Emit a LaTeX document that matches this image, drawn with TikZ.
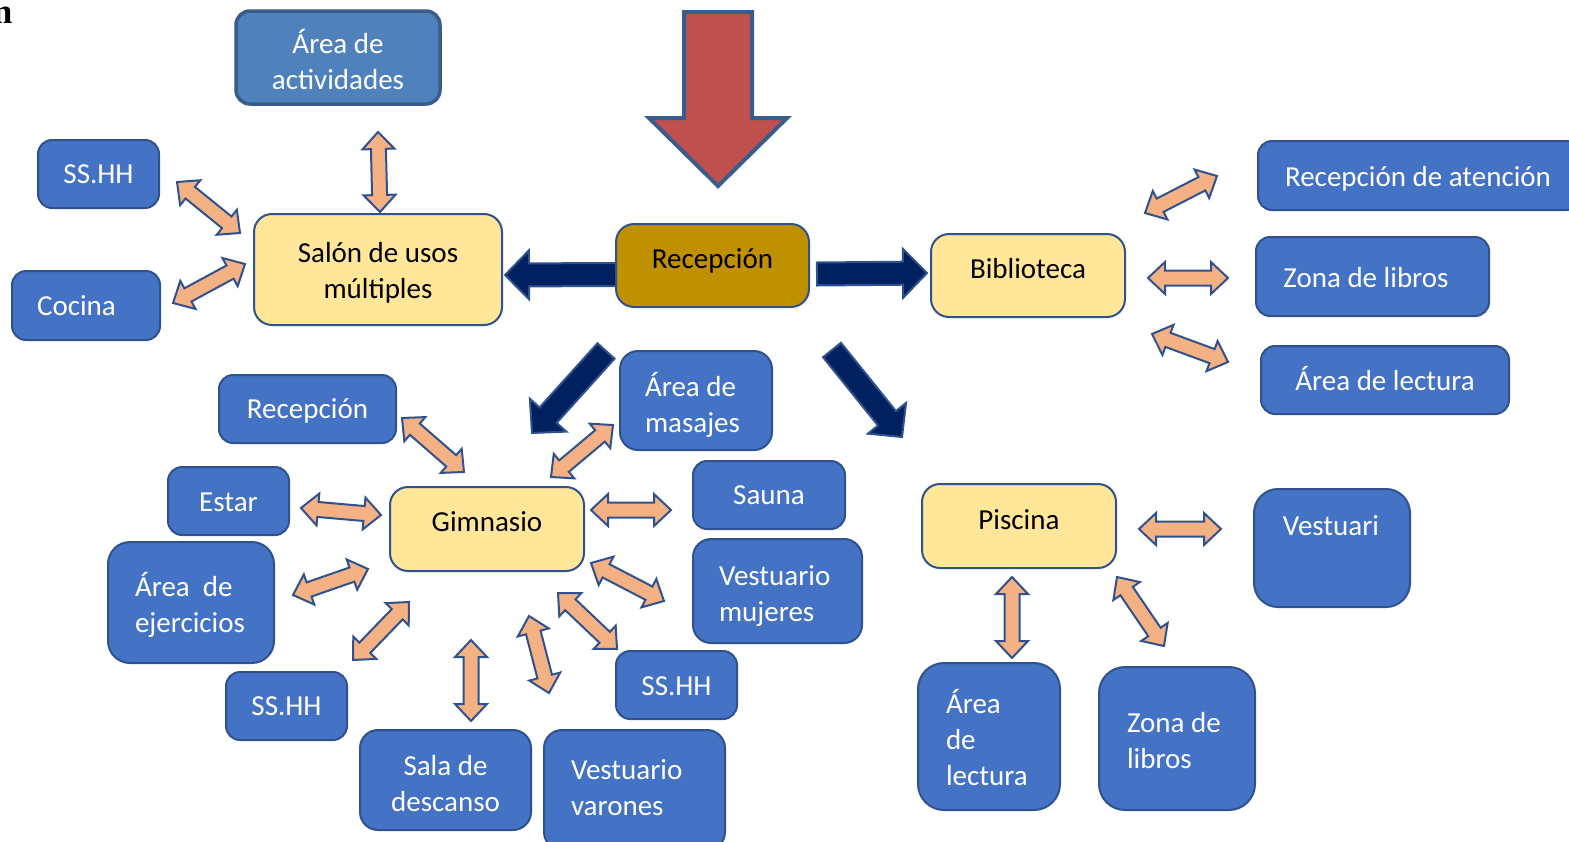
\documentclass[tikz,border=0pt]{standalone}
\usepackage{fontspec}
\setmainfont{Carlito}
\newfontfamily\tnrfont{Liberation Serif}
\usetikzlibrary{calc}
\definecolor{boxblue}{HTML}{4472C4}
\definecolor{boxbord}{HTML}{2F528F}
\definecolor{ylw}{HTML}{FFE699}
\definecolor{goldfill}{HTML}{BF9000}
\definecolor{actblue}{HTML}{4F81BD}
\definecolor{actbord}{HTML}{385D8A}
\definecolor{orng}{HTML}{F4B183}
\definecolor{navyfill}{HTML}{002060}
\definecolor{redarr}{HTML}{C0504D}

\newcommand{\txc}[3]{\raisebox{\dimexpr #2-10pt\relax}[0pt][0pt]{\makebox[0pt]{\hspace*{#1}\hspace*{#1}\begin{tabular}{@{}c@{}}#3\end{tabular}}}}
\newcommand{\txl}[3]{\raisebox{\dimexpr #2-10pt\relax}[0pt][0pt]{\makebox[0pt][l]{\hspace*{#1}\begin{tabular}{@{}l@{}}#3\end{tabular}}}}

\tikzset{
  bx/.style={draw=boxbord, fill=boxblue, line width=2pt, rounded corners=14pt, text=white, inner sep=0pt},
  cbx/.style={draw=boxbord, fill=ylw, line width=2pt, rounded corners=18pt, text=black, inner sep=0pt},
  biarr/.style={draw=boxbord, fill=orng, line width=2pt, line join=miter},
  darr/.style={draw=boxbord, fill=navyfill, line width=2pt, line join=miter},
  redblock/.style={draw=actbord, fill=redarr, line width=4pt, line join=miter},
  every node/.style={font=\fontsize{29}{36}\selectfont}
}

% double-headed block arrow: name, end A, end B
\newcommand{\biarrow}[3]{%
  \coordinate (#1a) at (#2);
  \coordinate (#1b) at (#3);
  \coordinate (#1p) at ($(#1a)!17pt!(#1b)$);
  \coordinate (#1q) at ($(#1b)!17pt!(#1a)$);
  \draw[biarr] (#1a) -- ($(#1p)!16pt!90:(#1b)$) -- ($(#1p)!7.5pt!90:(#1b)$)
    -- ($(#1q)!7.5pt!-90:(#1a)$) -- ($(#1q)!16pt!-90:(#1a)$) -- (#1b)
    -- ($(#1q)!16pt!90:(#1a)$) -- ($(#1q)!7.5pt!90:(#1a)$)
    -- ($(#1p)!7.5pt!-90:(#1b)$) -- ($(#1p)!16pt!-90:(#1b)$) -- cycle;
}
% single-headed block arrow: name, tail, tip
\newcommand{\onearrow}[3]{%
  \coordinate (#1a) at (#2);
  \coordinate (#1b) at (#3);
  \coordinate (#1q) at ($(#1b)!24pt!(#1a)$);
  \draw[darr] ($(#1a)!11.5pt!90:(#1b)$) -- ($(#1q)!11.5pt!-90:(#1a)$)
    -- ($(#1q)!24.5pt!-90:(#1a)$) -- (#1b) -- ($(#1q)!24.5pt!90:(#1a)$)
    -- ($(#1q)!11.5pt!90:(#1a)$) -- ($(#1a)!11.5pt!-90:(#1b)$) -- cycle;
}

\begin{document}
\begin{tikzpicture}[x=1pt,y=-1pt]
\useasboundingbox (0,0) rectangle (1569,841);
\clip (0,0) rectangle (1569,841);

% heading fragment (cut off at the left edge, as in the reference)
\node[font=\tnrfont\bfseries\fontsize{35}{35}\selectfont, anchor=base east, inner sep=0pt] (ntxt) at (12.5,23.5) {n};

% red entrance arrow
\draw[redblock] (684,12) -- (752,12) -- (752,118) -- (787,118) -- (718,186) -- (649,118) -- (684,118) -- cycle;

% dark arrows from Recepcion
\onearrow{d1}{616,274.5}{505,275}
\onearrow{d2}{817,274}{927,273}
\onearrow{d3}{606,351}{532,433}
\onearrow{d4}{832,350}{902,437}

% orange double arrows
\biarrow{u1}{378,132}{380,212}
\biarrow{u2}{177,182}{240,233}
\biarrow{u3}{173,303}{245,264}
\biarrow{b1}{1145,213}{1217,176}
\biarrow{b2}{1148,278}{1228,278}
\biarrow{b3}{1152,334}{1228,362}
\biarrow{g1}{402,418}{464,472}
\biarrow{g2}{551,477}{613,425}
\biarrow{g3}{301,508}{381,515}
\biarrow{g4}{591,510}{671,510}
\biarrow{g5}{293,595}{368,569}
\biarrow{g6}{591,563}{664,601}
\biarrow{g7}{353,660}{409,602}
\biarrow{g8}{558,593}{617,649}
\biarrow{g9}{471,640}{471,721}
\biarrow{g10}{529,616}{549,693}
\biarrow{q1}{1139,529}{1221,529}
\biarrow{q2}{1012,577}{1012,658}
\biarrow{q3}{1117,577}{1164,646}

% main boxes
\node[cbx, fill=goldfill, minimum width=193pt, minimum height=83pt] (rec) at (712.5,265.5) {\txc{0pt}{7.5pt}{Recepción}};
\node[cbx, minimum width=248pt, minimum height=111pt] (salon) at (378,269.5) {\txc{0pt}{0pt}{Salón de usos\\múltiples}};
\node[cbx, minimum width=194pt, minimum height=83pt] (bib) at (1028,275.5) {\txc{0pt}{7.5pt}{Biblioteca}};
\node[cbx, minimum width=194pt, minimum height=84pt] (gim) at (487,529) {\txc{0pt}{8pt}{Gimnasio}};
\node[cbx, minimum width=194pt, minimum height=84pt] (pis) at (1019,526) {\txc{0pt}{7pt}{Piscina}};

% blue boxes
\node[bx, fill=actblue, draw=actbord, line width=3.5pt, minimum width=204pt, minimum height=93pt] (act) at (338,57.5) {\txc{0pt}{-3.5pt}{Área de\\actividades}};
\node[bx, minimum width=121pt, minimum height=68pt] (ss1) at (98.5,174) {\txc{0pt}{1pt}{SS.HH}};
\node[bx, minimum width=148pt, minimum height=69pt] (coc) at (86,305.5) {\txc{-9.5pt}{0.5pt}{Cocina}};
\node[bx, minimum width=322pt, minimum height=69pt] (rda) at (1419,175.5) {\txc{-1pt}{0pt}{Recepción de atención}};
\node[bx, minimum width=233pt, minimum height=79pt] (zl) at (1372.5,276.5) {\txc{-6.5pt}{-0.5pt}{Zona de libros}};
\node[bx, minimum width=248pt, minimum height=68pt] (al) at (1385,380) {\txc{0pt}{0pt}{Área de lectura}};
\node[bx, minimum width=177pt, minimum height=68pt] (rec2) at (307.5,409) {\txc{0pt}{1pt}{Recepción}};
\node[bx, rounded corners=18pt, minimum width=152pt, minimum height=99pt] (mas) at (696,400.5) {\txl{-51pt}{-3.5pt}{Área de\\masajes}};
\node[bx, minimum width=121pt, minimum height=68pt] (est) at (228.5,501) {\txc{0pt}{0pt}{Estar}};
\node[bx, minimum width=152pt, minimum height=68pt] (sau) at (769,495) {\txc{0pt}{1pt}{Sauna}};
\node[bx, rounded corners=22pt, minimum width=166pt, minimum height=121pt] (eje) at (191,602.5) {\txl{-56pt}{-1.5pt}{Área\ \ de\\ejercicios}};
\node[bx, rounded corners=18pt, minimum width=169pt, minimum height=104pt] (vm) at (777.5,591) {\txl{-58.5pt}{-2pt}{Vestuario\\mujeres}};
\node[bx, minimum width=121pt, minimum height=68pt] (ss2) at (286.5,706) {\txc{0pt}{1pt}{SS.HH}};
\node[bx, minimum width=121pt, minimum height=68pt] (ss3) at (676.5,685) {\txc{0pt}{0pt}{SS.HH}};
\node[bx, rounded corners=18pt, minimum width=171pt, minimum height=100pt] (sd) at (445.5,780) {\txc{0pt}{-3pt}{Sala de\\descanso}};
\node[bx, rounded corners=18pt, minimum width=181pt, minimum height=120pt] (vv) at (634.5,790) {\txl{-63.5pt}{3pt}{Vestuario\\varones}};
\node[bx, rounded corners=24pt, minimum width=156pt, minimum height=118pt] (ves) at (1332,548) {\txc{-1pt}{23pt}{Vestuari}};
\node[bx, rounded corners=26pt, minimum width=142pt, minimum height=147pt] (pal) at (989,736.5) {\txl{-43pt}{-2pt}{Área\\de\\lectura}};
\node[bx, rounded corners=26pt, minimum width=156pt, minimum height=143pt] (pzl) at (1177,738.5) {\txl{-50pt}{-1.5pt}{Zona de\\libros}};
\end{tikzpicture}
\end{document}
